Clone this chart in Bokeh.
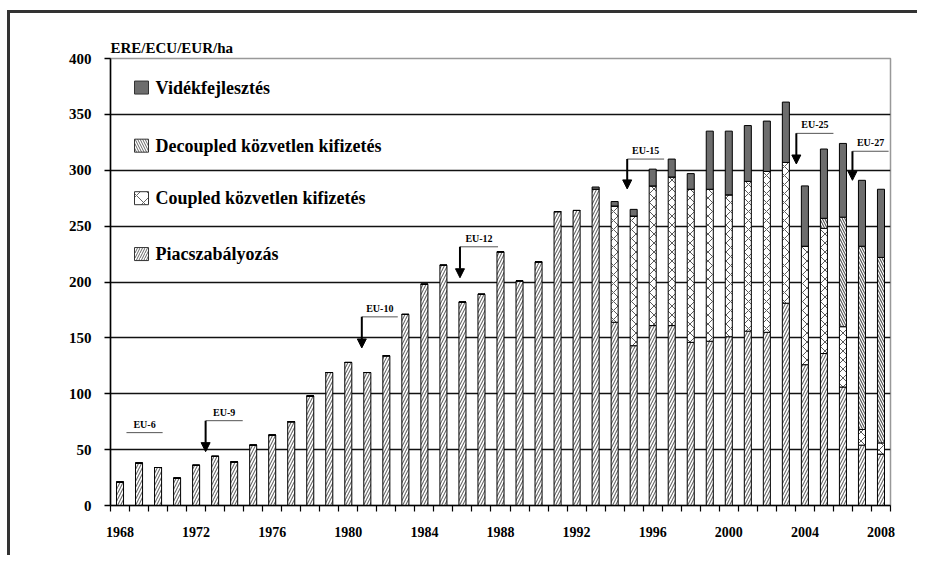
from bokeh.plotting import figure
from bokeh.models import Range1d, FixedTicker, Arrow, NormalHead, ColumnDataSource
from bokeh.embed import file_html
from bokeh.resources import INLINE
from bokeh.core.properties import value

# ---- data (ERE/ECU/EUR per ha) ----
years = list(range(1968, 2009))
piac = [21, 38, 34, 24.5, 36, 44, 39, 54, 63, 75,
        98, 119, 128, 119, 134, 171, 198, 215, 182, 189,
        227, 201, 218, 263, 264, 283, 164, 143, 161, 161,
        146, 147, 151, 156, 155, 181, 126, 136, 106, 54, 46]
coupled = [0] * 26 + [104, 116, 125, 133, 137, 136, 127, 134, 144, 126, 106, 112, 54, 14, 10]
decoupled = [0] * 37 + [9, 98, 164, 166]
videk = [0] * 25 + [2, 4, 6, 15, 16, 14, 52, 57, 50, 45, 54, 54, 62, 66, 59, 61]

series_names = ["Piacszabályozás", "Coupled közvetlen kifizetés",
                "Decoupled közvetlen kifizetés", "Vidékfejlesztés"]
label_years = list(range(1968, 2009, 4))
y_ticks = list(range(0, 401, 50))

# EU enlargement annotations: label, line start/end year, line level, arrow tip level
eu_labels = ["EU-6", "EU-9", "EU-10", "EU-12", "EU-15", "EU-25", "EU-27"]
eu_x0 = [1968.34, 1972.5, 1980.71, 1985.87, 1994.66, 2003.55, 2006.5]
eu_x1 = [1970.24, 1974.45, 1982.6, 1987.87, 1996.6, 2005.5, 2008.4]
eu_line_y = [65.2, 75.9, 168.8, 231.5, 310, 333, 317]
eu_tip_y = [None, 48.2, 141, 203.8, 283.3, 305.6, 291]

SERIF = "Liberation Serif"

src = ColumnDataSource(dict(year=years, piac=piac, coupled=coupled,
                            decoupled=decoupled, videk=videk))

p = figure(width=910, height=545, output_backend="svg", toolbar_location=None,
           x_range=Range1d(1967.5, 2008.5), y_range=Range1d(0, 400),
           min_border_left=100, min_border_right=30, min_border_top=45,
           min_border_bottom=53)
p.styles = {"border-top": "3px solid #333", "border-left": "3px solid #333",
            "margin-left": "7px", "margin-top": "10px"}

p.title.text = "ERE/ECU/EUR/ha"
p.title.text_font = SERIF
p.title.text_font_style = "bold"
p.title.text_font_size = "15px"
p.title.text_color = "black"
p.title.align = "left"
p.title.standoff = 6

p.vbar_stack(["piac", "coupled", "decoupled", "videk"], x="year", width=0.37, source=src,
             fill_color=["white", "white", "white", "#6d6d6d"],
             hatch_pattern=["/", "x", "\\", " "],
             hatch_scale=[6, 9, 5, 6],
             hatch_weight=[1.1, 1.0, 1.1, 1.0],
             hatch_color=["#6a6a6a", "#5a5a5a", "#555555", "#555555"],
             line_color="black", line_width=1)

# axes
p.yaxis.ticker = FixedTicker(ticks=y_ticks)
p.yaxis.major_tick_out = 6
p.yaxis.major_tick_in = 0
p.yaxis.minor_tick_out = 0
p.yaxis.minor_tick_in = 0
p.yaxis.axis_line_width = 1.5
p.yaxis.axis_line_color = "black"
p.yaxis.major_tick_line_width = 1.5
p.yaxis.major_label_standoff = 13
p.yaxis.major_label_text_font = SERIF
p.yaxis.major_label_text_font_style = "bold"
p.yaxis.major_label_text_font_size = "15px"
p.yaxis.major_label_text_color = "black"

p.xaxis.ticker = FixedTicker(ticks=label_years, minor_ticks=[y - 0.5 for y in years] + [years[-1] + 0.5])
p.xaxis.major_label_overrides = {y: str(y) for y in label_years}
p.xaxis.major_tick_out = 0
p.xaxis.major_tick_in = 0
p.xaxis.minor_tick_out = 6
p.xaxis.minor_tick_in = 0
p.xaxis.minor_tick_line_color = "black"
p.xaxis.minor_tick_line_width = 1.2
p.xaxis.axis_line_width = 1.5
p.xaxis.axis_line_color = "black"
p.xaxis.major_label_standoff = 15
p.xaxis.major_label_text_font = SERIF
p.xaxis.major_label_text_font_style = "bold"
p.xaxis.major_label_text_font_size = "14px"
p.xaxis.major_label_text_color = "black"

p.xgrid.visible = False
p.ygrid.ticker = FixedTicker(ticks=y_ticks[1:-1])
p.ygrid.grid_line_color = "#111111"
p.ygrid.grid_line_width = 1.5
p.outline_line_color = "#999999"
p.outline_line_width = 1.5

# legend drawn inside the plot area
leg_labels = ["Vidékfejlesztés", "Decoupled közvetlen kifizetés",
              "Coupled közvetlen kifizetés", "Piacszabályozás"]
leg_y = [374, 322, 275, 225]
leg_fill = ["#6d6d6d", "white", "white", "white"]
leg_hatch = [" ", "\\", "x", "/"]
leg_scale = [5, 5, 14, 5]
for yy, fc, hp, hs in zip(leg_y, leg_fill, leg_hatch, leg_scale):
    p.rect(x=[1969.13], y=[yy], width=14, height=13, width_units="screen", height_units="screen",
           fill_color=fc, hatch_pattern=hp, hatch_scale=hs, hatch_color="#666666",
           hatch_weight=1.0, line_color="#333333", line_width=1)
p.text(x=[1969.87] * 4, y=leg_y, text=leg_labels, text_font=value(SERIF),
       text_font_style="bold", text_font_size="18px", text_baseline="middle",
       text_align="left", text_color="black")

# EU enlargement markers
p.segment(x0=eu_x0, y0=eu_line_y, x1=eu_x1, y1=eu_line_y, line_color="#555555", line_width=1)
p.text(x=[(a + b) / 2 for a, b in zip(eu_x0, eu_x1)], y=[v + 7.5 for v in eu_line_y],
       text=eu_labels, text_font=value(SERIF), text_font_style="bold",
       text_font_size="10px", text_align="center", text_baseline="middle", text_color="black")
for x0, ly, ty in zip(eu_x0, eu_line_y, eu_tip_y):
    if ty is None:
        continue
    p.add_layout(Arrow(x_start=x0, y_start=ly, x_end=x0, y_end=ty, line_width=2,
                       line_color="black",
                       end=NormalHead(size=9, fill_color="black", line_color="black")))

open("out.html", "w").write(file_html(p, INLINE))
